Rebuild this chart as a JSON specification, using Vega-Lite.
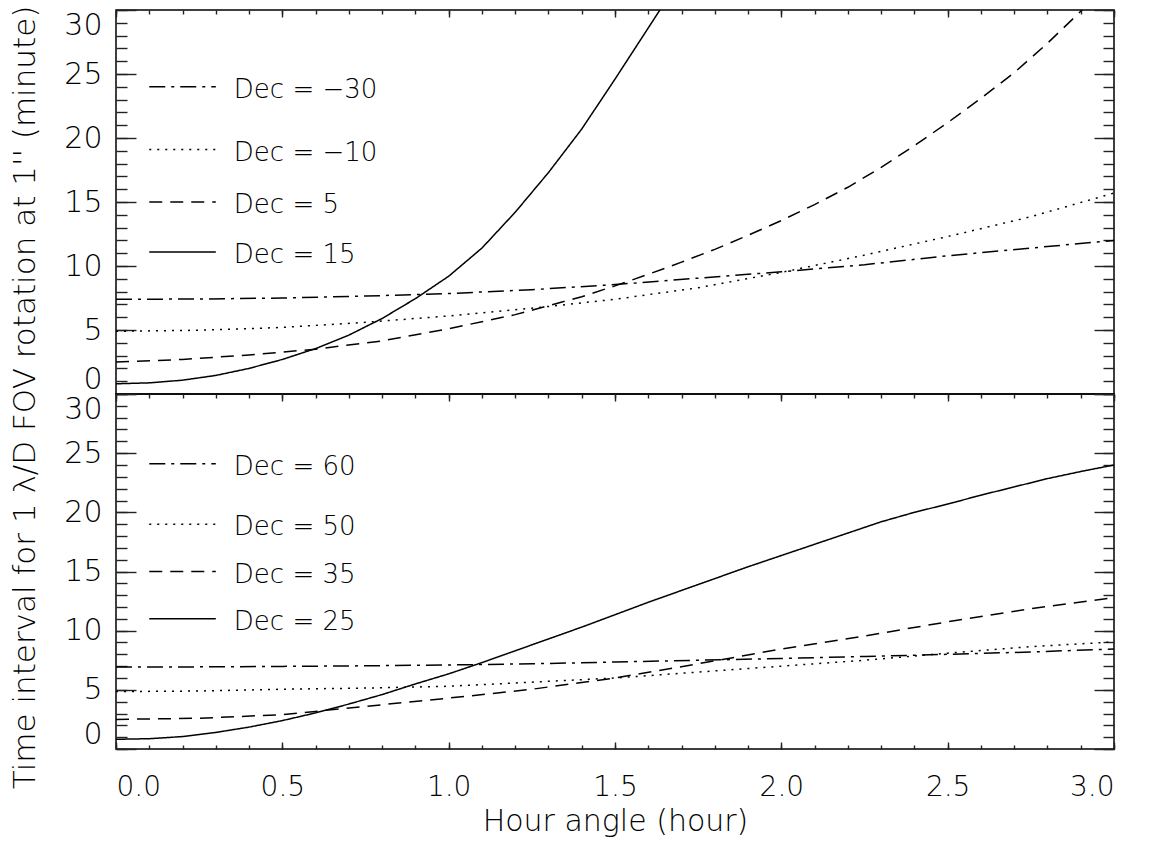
{
  "$schema": "https://vega.github.io/schema/vega-lite/v6.json",
  "background": "white",
  "padding": {"left": 8, "top": 4, "right": 0, "bottom": 0},
  "spacing": 0,
  "bounds": "flush",
  "config": {
    "view": {"stroke": "black", "strokeWidth": 1.5},
    "font": "DejaVu Sans",
    "axis": {
      "domain": false, "grid": false, "tickColor": "#222", "tickWidth": 1.4,
      "labelFont": "DejaVu Sans", "labelFontWeight": 200, "labelColor": "black",
      "titleFont": "DejaVu Sans", "titleFontWeight": 200, "titleColor": "black",
      "labelFontSize": 30, "titleFontSize": 31
    }
  },
  "datasets": {
    "top": [
      {"hour": 0, "minutes": 7.4, "dec": "-30"}, {"hour": 0.25, "minutes": 7.42, "dec": "-30"}, {"hour": 0.5, "minutes": 7.5, "dec": "-30"}, {"hour": 0.75, "minutes": 7.65, "dec": "-30"}, {"hour": 1, "minutes": 7.85, "dec": "-30"}, {"hour": 1.25, "minutes": 8.15, "dec": "-30"}, {"hour": 1.5, "minutes": 8.55, "dec": "-30"}, {"hour": 1.75, "minutes": 9.05, "dec": "-30"}, {"hour": 2, "minutes": 9.55, "dec": "-30"}, {"hour": 2.25, "minutes": 10.1, "dec": "-30"}, {"hour": 2.5, "minutes": 10.8, "dec": "-30"}, {"hour": 2.75, "minutes": 11.4, "dec": "-30"}, {"hour": 3, "minutes": 12.0, "dec": "-30"},
      {"hour": 0, "minutes": 4.9, "dec": "-10"}, {"hour": 0.25, "minutes": 4.98, "dec": "-10"}, {"hour": 0.5, "minutes": 5.2, "dec": "-10"}, {"hour": 0.75, "minutes": 5.6, "dec": "-10"}, {"hour": 1, "minutes": 6.1, "dec": "-10"}, {"hour": 1.25, "minutes": 6.7, "dec": "-10"}, {"hour": 1.5, "minutes": 7.4, "dec": "-10"}, {"hour": 1.75, "minutes": 8.3, "dec": "-10"}, {"hour": 2, "minutes": 9.5, "dec": "-10"}, {"hour": 2.25, "minutes": 10.85, "dec": "-10"}, {"hour": 2.5, "minutes": 12.3, "dec": "-10"}, {"hour": 2.75, "minutes": 13.85, "dec": "-10"}, {"hour": 3, "minutes": 15.7, "dec": "-10"},
      {"hour": 0, "minutes": 2.5, "dec": "5"}, {"hour": 0.2, "minutes": 2.7, "dec": "5"}, {"hour": 0.4, "minutes": 3.05, "dec": "5"}, {"hour": 0.6, "minutes": 3.5, "dec": "5"}, {"hour": 0.8, "minutes": 4.15, "dec": "5"}, {"hour": 1, "minutes": 5.1, "dec": "5"}, {"hour": 1.2, "minutes": 6.2, "dec": "5"}, {"hour": 1.4, "minutes": 7.6, "dec": "5"}, {"hour": 1.5, "minutes": 8.45, "dec": "5"}, {"hour": 1.6, "minutes": 9.35, "dec": "5"}, {"hour": 1.7, "minutes": 10.3, "dec": "5"}, {"hour": 1.8, "minutes": 11.3, "dec": "5"}, {"hour": 1.9, "minutes": 12.4, "dec": "5"}, {"hour": 2, "minutes": 13.55, "dec": "5"}, {"hour": 2.1, "minutes": 14.8, "dec": "5"}, {"hour": 2.2, "minutes": 16.15, "dec": "5"}, {"hour": 2.3, "minutes": 17.7, "dec": "5"}, {"hour": 2.4, "minutes": 19.4, "dec": "5"}, {"hour": 2.5, "minutes": 21.2, "dec": "5"}, {"hour": 2.6, "minutes": 23.1, "dec": "5"}, {"hour": 2.7, "minutes": 25.1, "dec": "5"}, {"hour": 2.8, "minutes": 27.4, "dec": "5"}, {"hour": 2.9, "minutes": 29.9, "dec": "5"}, {"hour": 3, "minutes": 32.5, "dec": "5"},
      {"hour": 0, "minutes": 0.8, "dec": "15"}, {"hour": 0.1, "minutes": 0.87, "dec": "15"}, {"hour": 0.2, "minutes": 1.08, "dec": "15"}, {"hour": 0.3, "minutes": 1.45, "dec": "15"}, {"hour": 0.4, "minutes": 2.0, "dec": "15"}, {"hour": 0.5, "minutes": 2.7, "dec": "15"}, {"hour": 0.6, "minutes": 3.55, "dec": "15"}, {"hour": 0.7, "minutes": 4.6, "dec": "15"}, {"hour": 0.8, "minutes": 5.9, "dec": "15"}, {"hour": 0.9, "minutes": 7.45, "dec": "15"}, {"hour": 1, "minutes": 9.2, "dec": "15"}, {"hour": 1.1, "minutes": 11.4, "dec": "15"}, {"hour": 1.2, "minutes": 14.2, "dec": "15"}, {"hour": 1.3, "minutes": 17.3, "dec": "15"}, {"hour": 1.4, "minutes": 20.7, "dec": "15"}, {"hour": 1.5, "minutes": 24.6, "dec": "15"}, {"hour": 1.6, "minutes": 28.6, "dec": "15"}, {"hour": 1.7, "minutes": 32.6, "dec": "15"}
    ],
    "bottom": [
      {"hour": 0, "minutes": 6.93, "dec": "60"}, {"hour": 0.25, "minutes": 6.94, "dec": "60"}, {"hour": 0.5, "minutes": 6.98, "dec": "60"}, {"hour": 0.75, "minutes": 7.03, "dec": "60"}, {"hour": 1, "minutes": 7.1, "dec": "60"}, {"hour": 1.25, "minutes": 7.2, "dec": "60"}, {"hour": 1.5, "minutes": 7.35, "dec": "60"}, {"hour": 1.75, "minutes": 7.5, "dec": "60"}, {"hour": 2, "minutes": 7.65, "dec": "60"}, {"hour": 2.25, "minutes": 7.82, "dec": "60"}, {"hour": 2.5, "minutes": 8.0, "dec": "60"}, {"hour": 2.75, "minutes": 8.2, "dec": "60"}, {"hour": 3, "minutes": 8.45, "dec": "60"},
      {"hour": 0, "minutes": 4.85, "dec": "50"}, {"hour": 0.25, "minutes": 4.9, "dec": "50"}, {"hour": 0.5, "minutes": 5.05, "dec": "50"}, {"hour": 0.75, "minutes": 5.15, "dec": "50"}, {"hour": 1, "minutes": 5.3, "dec": "50"}, {"hour": 1.25, "minutes": 5.65, "dec": "50"}, {"hour": 1.5, "minutes": 6.0, "dec": "50"}, {"hour": 1.75, "minutes": 6.5, "dec": "50"}, {"hour": 2, "minutes": 7.0, "dec": "50"}, {"hour": 2.25, "minutes": 7.5, "dec": "50"}, {"hour": 2.5, "minutes": 8.1, "dec": "50"}, {"hour": 2.75, "minutes": 8.65, "dec": "50"}, {"hour": 3, "minutes": 9.05, "dec": "50"},
      {"hour": 0, "minutes": 2.5, "dec": "35"}, {"hour": 0.25, "minutes": 2.6, "dec": "35"}, {"hour": 0.5, "minutes": 2.9, "dec": "35"}, {"hour": 0.75, "minutes": 3.6, "dec": "35"}, {"hour": 1, "minutes": 4.3, "dec": "35"}, {"hour": 1.25, "minutes": 5.05, "dec": "35"}, {"hour": 1.5, "minutes": 6.0, "dec": "35"}, {"hour": 1.75, "minutes": 7.2, "dec": "35"}, {"hour": 2, "minutes": 8.45, "dec": "35"}, {"hour": 2.25, "minutes": 9.55, "dec": "35"}, {"hour": 2.5, "minutes": 10.75, "dec": "35"}, {"hour": 2.75, "minutes": 11.85, "dec": "35"}, {"hour": 3, "minutes": 12.8, "dec": "35"},
      {"hour": 0, "minutes": 0.82, "dec": "25"}, {"hour": 0.1, "minutes": 0.87, "dec": "25"}, {"hour": 0.2, "minutes": 1.05, "dec": "25"}, {"hour": 0.3, "minutes": 1.4, "dec": "25"}, {"hour": 0.4, "minutes": 1.85, "dec": "25"}, {"hour": 0.5, "minutes": 2.4, "dec": "25"}, {"hour": 0.6, "minutes": 3.05, "dec": "25"}, {"hour": 0.7, "minutes": 3.8, "dec": "25"}, {"hour": 0.8, "minutes": 4.6, "dec": "25"}, {"hour": 0.9, "minutes": 5.5, "dec": "25"}, {"hour": 1, "minutes": 6.35, "dec": "25"}, {"hour": 1.1, "minutes": 7.3, "dec": "25"}, {"hour": 1.2, "minutes": 8.3, "dec": "25"}, {"hour": 1.3, "minutes": 9.3, "dec": "25"}, {"hour": 1.4, "minutes": 10.3, "dec": "25"}, {"hour": 1.5, "minutes": 11.35, "dec": "25"}, {"hour": 1.6, "minutes": 12.4, "dec": "25"}, {"hour": 1.7, "minutes": 13.4, "dec": "25"}, {"hour": 1.8, "minutes": 14.4, "dec": "25"}, {"hour": 1.9, "minutes": 15.4, "dec": "25"}, {"hour": 2, "minutes": 16.35, "dec": "25"}, {"hour": 2.1, "minutes": 17.3, "dec": "25"}, {"hour": 2.2, "minutes": 18.25, "dec": "25"}, {"hour": 2.3, "minutes": 19.2, "dec": "25"}, {"hour": 2.4, "minutes": 20.0, "dec": "25"}, {"hour": 2.5, "minutes": 20.7, "dec": "25"}, {"hour": 2.6, "minutes": 21.45, "dec": "25"}, {"hour": 2.7, "minutes": 22.15, "dec": "25"}, {"hour": 2.8, "minutes": 22.85, "dec": "25"}, {"hour": 2.9, "minutes": 23.45, "dec": "25"}, {"hour": 3, "minutes": 24.0, "dec": "25"}
    ],
    "legTop": [
      {"dec": "-30", "x1": 0.1, "x2": 0.3, "y": 24.0, "label": "Dec = −30"},
      {"dec": "-10", "x1": 0.1, "x2": 0.3, "y": 19.1, "label": "Dec = −10"},
      {"dec": "5", "x1": 0.1, "x2": 0.3, "y": 15.0, "label": "Dec = 5"},
      {"dec": "15", "x1": 0.1, "x2": 0.3, "y": 11.1, "label": "Dec = 15"}
    ],
    "legBottom": [
      {"dec": "60", "x1": 0.1, "x2": 0.3, "y": 24.1, "label": "Dec = 60"},
      {"dec": "50", "x1": 0.1, "x2": 0.3, "y": 19.0, "label": "Dec = 50"},
      {"dec": "35", "x1": 0.1, "x2": 0.3, "y": 15.0, "label": "Dec = 35"},
      {"dec": "25", "x1": 0.1, "x2": 0.3, "y": 11.0, "label": "Dec = 25"}
    ]
  },
  "vconcat": [
    {
      "width": 998, "height": 384,
      "resolve": {"axis": {"x": "independent", "y": "independent"}},
      "layer": [
        {
          "data": {"name": "top"},
          "mark": {"type": "line", "clip": true, "strokeWidth": 1.5, "color": "black"},
          "encoding": {
            "x": {"field": "hour", "type": "quantitative", "scale": {"domain": [0, 3], "nice": false, "zero": false},
                  "axis": {"orient": "top", "values": [0, 0.5, 1, 1.5, 2, 2.5, 3], "tickSize": -7, "labels": false, "title": null}},
            "y": {"field": "minutes", "type": "quantitative", "scale": {"domain": [0, 30], "nice": false},
                  "axis": {"orient": "left", "values": [0, 5, 10, 15, 20, 25, 30], "tickSize": -20, "labelPadding": 34, "labelFlush": true, "labelFlushOffset": 0,
                           "title": "Time interval for 1 λ/D FOV rotation at 1'' (minute)", "titleAngle": 270, "titleX": -82, "titleY": 387, "titleAlign": "center", "titleBaseline": "alphabetic"}},
            "strokeDash": {"field": "dec", "type": "nominal", "legend": null,
                           "scale": {"domain": ["-30", "-10", "5", "15"], "range": [[16, 6, 3, 6], [2, 6], [13, 8], [1, 0]]}}
          }
        },
        {
          "data": {"name": "legTop"},
          "mark": {"type": "rule", "strokeWidth": 1.5, "color": "black"},
          "encoding": {
            "x": {"field": "x1", "type": "quantitative", "scale": {"domain": [0, 3], "nice": false, "zero": false},
                  "axis": {"orient": "top", "values": [0, 0.1, 0.2, 0.3, 0.4, 0.5, 0.6, 0.7, 0.8, 0.9, 1, 1.1, 1.2, 1.3, 1.4, 1.5, 1.6, 1.7, 1.8, 1.9, 2, 2.1, 2.2, 2.3, 2.4, 2.5, 2.6, 2.7, 2.8, 2.9, 3], "tickSize": -4, "labels": false, "title": null}},
            "x2": {"field": "x2"},
            "y": {"field": "y", "type": "quantitative", "scale": {"domain": [0, 30], "nice": false},
                  "axis": {"orient": "left", "values": [0, 1, 2, 3, 4, 5, 6, 7, 8, 9, 10, 11, 12, 13, 14, 15, 16, 17, 18, 19, 20, 21, 22, 23, 24, 25, 26, 27, 28, 29, 30], "tickSize": -11, "labels": false, "title": null}},
            "strokeDash": {"field": "dec", "type": "nominal", "legend": null,
                           "scale": {"domain": ["-30", "-10", "5", "15"], "range": [[16, 6, 3, 6], [2, 6], [13, 8], [1, 0]]}}
          }
        },
        {
          "data": {"name": "legTop"},
          "mark": {"type": "text", "align": "left", "baseline": "middle", "dx": 18, "dy": 3, "fontSize": 26, "font": "DejaVu Sans", "fontWeight": 200, "color": "black"},
          "encoding": {
            "x": {"field": "x2", "type": "quantitative", "scale": {"domain": [0, 3], "nice": false, "zero": false}, "axis": null},
            "y": {"field": "y", "type": "quantitative", "scale": {"domain": [0, 30], "nice": false},
                  "axis": {"orient": "right", "values": [0, 5, 10, 15, 20, 25, 30], "tickSize": -20, "labels": false, "title": null}},
            "text": {"field": "label"}
          }
        },
        {
          "data": {"name": "legTop"},
          "mark": {"type": "point", "opacity": 0},
          "encoding": {
            "x": {"field": "x1", "type": "quantitative", "scale": {"domain": [0, 3], "nice": false, "zero": false}, "axis": null},
            "y": {"field": "y", "type": "quantitative", "scale": {"domain": [0, 30], "nice": false},
                  "axis": {"orient": "right", "values": [0, 1, 2, 3, 4, 5, 6, 7, 8, 9, 10, 11, 12, 13, 14, 15, 16, 17, 18, 19, 20, 21, 22, 23, 24, 25, 26, 27, 28, 29, 30], "tickSize": -11, "labels": false, "title": null}}
          }
        }
      ]
    },
    {
      "width": 998, "height": 355,
      "resolve": {"axis": {"x": "independent", "y": "independent"}},
      "layer": [
        {
          "data": {"name": "bottom"},
          "mark": {"type": "line", "clip": true, "strokeWidth": 1.5, "color": "black"},
          "encoding": {
            "x": {"field": "hour", "type": "quantitative", "scale": {"domain": [0, 3], "nice": false, "zero": false},
                  "axis": {"orient": "bottom", "values": [0, 0.5, 1, 1.5, 2, 2.5, 3], "format": ".1f", "tickSize": -7, "labelPadding": 31, "labelFontSize": 28,
                           "title": "Hour angle (hour)", "titleY": 81, "titleBaseline": "alphabetic", "titleFontSize": 30}},
            "y": {"field": "minutes", "type": "quantitative", "scale": {"domain": [0, 30], "nice": false},
                  "axis": {"orient": "left", "values": [0, 5, 10, 15, 20, 25, 30], "tickSize": -20, "labelPadding": 34, "labelFlush": true, "labelFlushOffset": 0, "title": null}},
            "strokeDash": {"field": "dec", "type": "nominal", "legend": null,
                           "scale": {"domain": ["60", "50", "35", "25"], "range": [[16, 6, 3, 6], [2, 6], [13, 8], [1, 0]]}}
          }
        },
        {
          "data": {"name": "legBottom"},
          "mark": {"type": "rule", "strokeWidth": 1.5, "color": "black"},
          "encoding": {
            "x": {"field": "x1", "type": "quantitative", "scale": {"domain": [0, 3], "nice": false, "zero": false},
                  "axis": {"orient": "bottom", "values": [0, 0.1, 0.2, 0.3, 0.4, 0.5, 0.6, 0.7, 0.8, 0.9, 1, 1.1, 1.2, 1.3, 1.4, 1.5, 1.6, 1.7, 1.8, 1.9, 2, 2.1, 2.2, 2.3, 2.4, 2.5, 2.6, 2.7, 2.8, 2.9, 3], "tickSize": -4, "labels": false, "title": null}},
            "x2": {"field": "x2"},
            "y": {"field": "y", "type": "quantitative", "scale": {"domain": [0, 30], "nice": false},
                  "axis": {"orient": "left", "values": [0, 1, 2, 3, 4, 5, 6, 7, 8, 9, 10, 11, 12, 13, 14, 15, 16, 17, 18, 19, 20, 21, 22, 23, 24, 25, 26, 27, 28, 29, 30], "tickSize": -11, "labels": false, "title": null}},
            "strokeDash": {"field": "dec", "type": "nominal", "legend": null,
                           "scale": {"domain": ["60", "50", "35", "25"], "range": [[16, 6, 3, 6], [2, 6], [13, 8], [1, 0]]}}
          }
        },
        {
          "data": {"name": "legBottom"},
          "mark": {"type": "text", "align": "left", "baseline": "middle", "dx": 18, "dy": 3, "fontSize": 26, "font": "DejaVu Sans", "fontWeight": 200, "color": "black"},
          "encoding": {
            "x": {"field": "x2", "type": "quantitative", "scale": {"domain": [0, 3], "nice": false, "zero": false},
                  "axis": {"orient": "top", "values": [0, 0.5, 1, 1.5, 2, 2.5, 3], "tickSize": -7, "labels": false, "title": null}},
            "y": {"field": "y", "type": "quantitative", "scale": {"domain": [0, 30], "nice": false},
                  "axis": {"orient": "right", "values": [0, 5, 10, 15, 20, 25, 30], "tickSize": -20, "labels": false, "title": null}},
            "text": {"field": "label"}
          }
        },
        {
          "data": {"name": "legBottom"},
          "mark": {"type": "point", "opacity": 0},
          "encoding": {
            "x": {"field": "x1", "type": "quantitative", "scale": {"domain": [0, 3], "nice": false, "zero": false},
                  "axis": {"orient": "top", "values": [0, 0.1, 0.2, 0.3, 0.4, 0.5, 0.6, 0.7, 0.8, 0.9, 1, 1.1, 1.2, 1.3, 1.4, 1.5, 1.6, 1.7, 1.8, 1.9, 2, 2.1, 2.2, 2.3, 2.4, 2.5, 2.6, 2.7, 2.8, 2.9, 3], "tickSize": -4, "labels": false, "title": null}},
            "y": {"field": "y", "type": "quantitative", "scale": {"domain": [0, 30], "nice": false},
                  "axis": {"orient": "right", "values": [0, 1, 2, 3, 4, 5, 6, 7, 8, 9, 10, 11, 12, 13, 14, 15, 16, 17, 18, 19, 20, 21, 22, 23, 24, 25, 26, 27, 28, 29, 30], "tickSize": -11, "labels": false, "title": null}}
          }
        }
      ]
    }
  ]
}
